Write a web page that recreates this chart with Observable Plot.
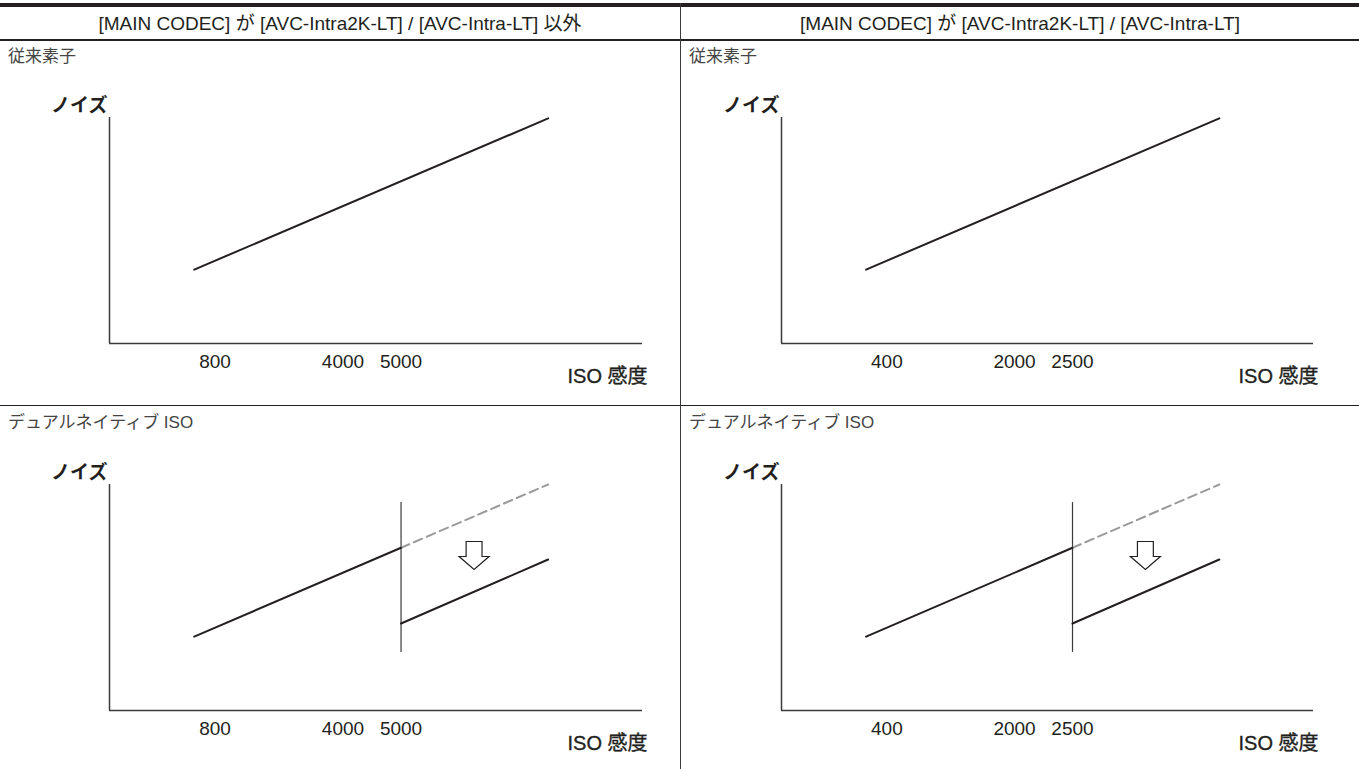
<!DOCTYPE html>
<html><head><meta charset="utf-8">
<script src="https://cdn.jsdelivr.net/npm/d3@7"></script>
<script src="https://cdn.jsdelivr.net/npm/@observablehq/plot@0.6"></script>
<style>
body{margin:0;background:#fff;font-family:"Liberation Sans","Noto Sans CJK JP",sans-serif;color:#231f20;}
#page{position:relative;width:1359px;height:769px;overflow:hidden;background:#fff;}
.abs{position:absolute;}
.hdr{top:7px;height:33px;line-height:33px;text-align:center;font-size:19px;white-space:nowrap;}
.cap{font-size:17px;color:#444;line-height:20px;white-space:nowrap;}
.bar{background:#231f20;}
</style></head><body><div id="page"></div>
<script>
// ---- data ----
const columnTitles = [
  "[MAIN CODEC] が [AVC-Intra2K-LT] / [AVC-Intra-LT] 以外",
  "[MAIN CODEC] が [AVC-Intra2K-LT] / [AVC-Intra-LT]"
];
const rowTitles = ["従来素子", "デュアルネイティブ ISO"];
const tickLabels = [["800", "4000", "5000"], ["400", "2000", "2500"]];
const tickPositions = [19.8, 43.8, 54.7];
const yLabel = "ノイズ";
const xLabel = "ISO 感度";
// schematic noise curves (x = position along ISO axis, y = noise)
const lineX = [15.9, 82.3];
const conventionalNoise = [32.7, 99.6];
const baseX = [15.9, 54.7];
const baseNoise = [32.7, 72];
const extendedX = [54.7, 82.3];
const extendedNoise = [72, 100];
const highX = [54.7, 82.3];
const highNoise = [38.5, 66.8];
const switchX = [54.7];
const switchNoise = [25.7, 92];
const arrowX = [68.4];
const arrowNoise = [68.6];

// ---- layout ----
const page = document.getElementById("page");
function div(cls, css, text) {
  const d = document.createElement("div");
  d.className = "abs " + cls;
  Object.assign(d.style, css);
  if (text != null) d.textContent = text;
  page.appendChild(d);
  return d;
}
const cols = [
  {left: 0, width: 679, marginLeft: 109, marginRight: 37, capX: 8, hdrLeft: 0, hdrWidth: 680},
  {left: 681, width: 678, marginLeft: 100, marginRight: 46, capX: 689, hdrLeft: 681, hdrWidth: 678}
];
const rowsTop = [41, 408];
const capCenters = [57, 423];

const ink = "#231f20";
const hollowDownArrow = {
  draw(ctx, size) {
    const r = Math.sqrt(size / Math.PI);
    const sw = r * 0.53, top = -r * 0.93, neck = r * 0.07, tip = r * 0.93;
    ctx.moveTo(-sw, top); ctx.lineTo(sw, top); ctx.lineTo(sw, neck);
    ctx.lineTo(r, neck); ctx.lineTo(0, tip); ctx.lineTo(-r, neck);
    ctx.lineTo(-sw, neck); ctx.closePath();
  }
};

const pts = (xs, ys) => xs.map((x, i) => ({x, y: ys[i]}));

columnTitles.forEach((t, c) => {
  div("hdr", {left: cols[c].hdrLeft + "px", width: cols[c].hdrWidth + "px"}, t);
});

rowTitles.forEach((rt, r) => {
  columnTitles.forEach((_, c) => {
    const col = cols[c];
    div("cap", {left: col.capX + "px", top: (capCenters[r] - 10) + "px"}, rt);
    const ticks = tickLabels[c].map((label, i) => ({x: tickPositions[i], label}));
    const marks = [
      Plot.ruleY([0], {stroke: "#3a3a3a", strokeWidth: 1.5}),
      Plot.ruleX([0], {stroke: "#3a3a3a", strokeWidth: 1.5}),
      Plot.text(ticks, {x: "x", y: 0, text: "label", dy: 18, fontSize: 19, fill: ink}),
      Plot.text([yLabel], {frameAnchor: "top-left", text: d => d, textAnchor: "end", dx: -2, dy: -19, fontSize: 19, fontWeight: "bold", fill: ink}),
      Plot.text([xLabel], {frameAnchor: "bottom-right", text: d => d, textAnchor: "end", dx: 5, dy: 39, fontSize: 20, fill: ink, stroke: ink, strokeWidth: 0.35})
    ];
    if (r === 0) {
      marks.push(Plot.line(pts(lineX, conventionalNoise), {x: "x", y: "y", stroke: ink, strokeWidth: 2}));
    } else {
      marks.push(
        Plot.ruleX(switchX, {x: d => d, y1: switchNoise[0], y2: switchNoise[1], stroke: "#3a3a3a", strokeWidth: 1.2}),
        Plot.line(pts(extendedX, extendedNoise), {x: "x", y: "y", stroke: "#9a9a9a", strokeWidth: 2, strokeDasharray: "9,5"}),
        Plot.line(pts(baseX, baseNoise), {x: "x", y: "y", stroke: ink, strokeWidth: 2}),
        Plot.line(pts(highX, highNoise), {x: "x", y: "y", stroke: ink, strokeWidth: 2}),
        Plot.dot(pts(arrowX, arrowNoise), {x: "x", y: "y", r: 15, symbol: hollowDownArrow, fill: "white", stroke: ink, strokeWidth: 1.2})
      );
    }
    const chart = Plot.plot({
      width: col.width,
      height: 363,
      marginLeft: col.marginLeft,
      marginRight: col.marginRight,
      marginTop: 76,
      marginBottom: 61,
      x: {domain: [0, 100], axis: null},
      y: {domain: [0, 100], axis: null},
      style: {fontFamily: '"Liberation Sans","Noto Sans CJK JP",sans-serif', background: "transparent", color: ink, overflow: "visible"},
      marks
    });
    chart.style.position = "absolute";
    chart.style.left = col.left + "px";
    chart.style.top = rowsTop[r] + "px";
    page.appendChild(chart);
  });
});

// table rules
div("bar", {left: "0px", top: "3px", width: "1359px", height: "4px"});
div("bar", {left: "0px", top: "39px", width: "1359px", height: "1.5px"});
div("bar", {left: "0px", top: "404.5px", width: "1359px", height: "1.5px"});
div("bar", {left: "679.5px", top: "3px", width: "1.5px", height: "766px", background: "#3a3a3a"});
</script>
</body></html>
